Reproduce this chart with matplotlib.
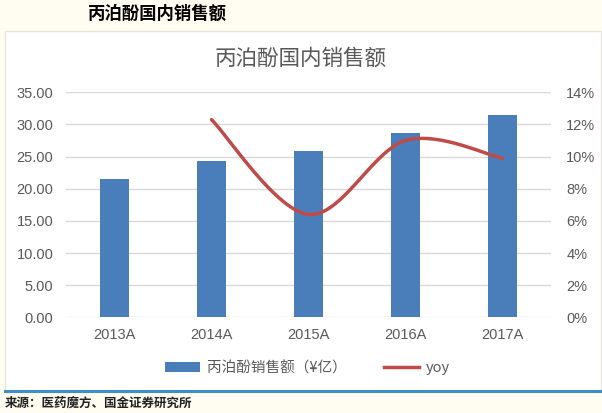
import matplotlib.pyplot as plt
import numpy as np
from matplotlib.lines import Line2D
from matplotlib.patches import Patch, Rectangle

plt.rcParams['font.family'] = ['Noto Sans CJK SC', 'DejaVu Sans']

years = ['2013A', '2014A', '2015A', '2016A', '2017A']
sales = [21.5, 24.3, 25.8, 28.7, 31.5]          # 亿元
yoy = [np.nan, 12.3, 6.4, 11.0, 9.9]             # %

bar_color = '#4a7ebb'
line_color = '#be4b48'
tick_color = '#595959'
grid_color = '#d9d9d9'


def smooth(xs, ys, n=40):
    """Excel style smoothed line (Catmull-Rom through the points)."""
    xs = np.asarray(xs, float)
    ys = np.asarray(ys, float)
    px, py = [], []
    last = len(xs) - 1
    for i in range(last):
        p0 = (xs[max(i - 1, 0)], ys[max(i - 1, 0)])
        p1 = (xs[i], ys[i])
        p2 = (xs[i + 1], ys[i + 1])
        p3 = (xs[min(i + 2, last)], ys[min(i + 2, last)])
        c1 = (p1[0] + (p2[0] - p0[0]) / 6, p1[1] + (p2[1] - p0[1]) / 6)
        c2 = (p2[0] - (p3[0] - p1[0]) / 6, p2[1] - (p3[1] - p1[1]) / 6)
        t = np.linspace(0, 1, n)
        bx = (1 - t) ** 3 * p1[0] + 3 * (1 - t) ** 2 * t * c1[0] + 3 * (1 - t) * t ** 2 * c2[0] + t ** 3 * p2[0]
        by = (1 - t) ** 3 * p1[1] + 3 * (1 - t) ** 2 * t * c1[1] + 3 * (1 - t) * t ** 2 * c2[1] + t ** 3 * p2[1]
        px.extend(bx)
        py.extend(by)
    return np.array(px), np.array(py)


fig = plt.figure(figsize=(6.02, 4.13), dpi=100)
fig.patch.set_facecolor('#fffdf2')

# white chart box and blue bottom rule
box = Rectangle((5 / 602, 22 / 413), 596 / 602, 360 / 413, transform=fig.transFigure,
                facecolor='white', edgecolor='#e8e4d8', linewidth=1.0, zorder=-5)
fig.add_artist(box)
fig.add_artist(Line2D([5 / 602, 1.0], [22 / 413, 22 / 413], transform=fig.transFigure,
                      color='#3f8fc6', linewidth=2.2, zorder=-4))

ax = fig.add_axes([0.1096, 0.2317, 0.8057, 0.5448])
ax.set_facecolor('none')
x = np.arange(len(years))
ax.bar(x, sales, width=0.3, color=bar_color, zorder=2)
ax.set_xlim(-0.5, len(years) - 0.5)
ax.set_ylim(0, 35)
ax.set_yticks(np.arange(0, 36, 5))
ax.set_yticklabels([f'{v:.2f}' for v in np.arange(0, 36, 5)])
ax.set_xticks(x)
ax.set_xticklabels(years)
ax.grid(axis='y', color=grid_color, linewidth=1.0, zorder=0)
ax.set_axisbelow(True)
for s in ax.spines.values():
    s.set_visible(False)
ax.tick_params(axis='both', length=0, colors=tick_color, labelsize=10.5)
ax.tick_params(axis='y', pad=9)
ax.tick_params(axis='x', pad=8)
for lab in ax.get_xticklabels() + ax.get_yticklabels():
    lab.set_fontfamily(['Liberation Sans', 'DejaVu Sans'])

ax2 = ax.twinx()
ax2.set_ylim(0, 14)
ax2.set_yticks(np.arange(0, 15, 2))
ax2.set_yticklabels([f'{v}%' for v in range(0, 15, 2)])
for s in ax2.spines.values():
    s.set_visible(False)
ax2.tick_params(axis='y', length=0, colors=tick_color, labelsize=10.5, pad=11)
for lab in ax2.get_yticklabels():
    lab.set_fontfamily(['Liberation Sans', 'DejaVu Sans'])

mask = ~np.isnan(np.array(yoy))
sx, sy = smooth(x[mask], np.array(yoy)[mask])
ax2.plot(sx, sy, color=line_color, linewidth=2.5, solid_capstyle='round', zorder=3)

fig.text(0.5, 0.858, '丙泊酚国内销售额', ha='center', va='center', fontsize=15.5, color='#595959')

handles = [Patch(facecolor=bar_color), Line2D([0], [0], color=line_color, linewidth=2.5)]
leg = fig.legend(handles, ['丙泊酚销售额（¥亿）', 'yoy'], loc='center', bbox_to_anchor=(0.511, 0.109),
                 ncol=2, frameon=False, fontsize=10.5, handlelength=2.4, handleheight=0.6,
                 columnspacing=2.5, handletextpad=0.5)
for t in leg.get_texts():
    t.set_color(tick_color)

fig.text(157 / 602, 0.966, '丙泊酚国内销售额', ha='center', va='center', fontsize=12.5,
         fontweight='bold', color='black')
fig.text(5 / 602, 0.024, '来源：医药魔方、国金证券研究所', ha='left', va='center', fontsize=9,
         fontweight='bold', color='#222222')

fig.savefig('out.png', dpi=100, facecolor=fig.get_facecolor())
